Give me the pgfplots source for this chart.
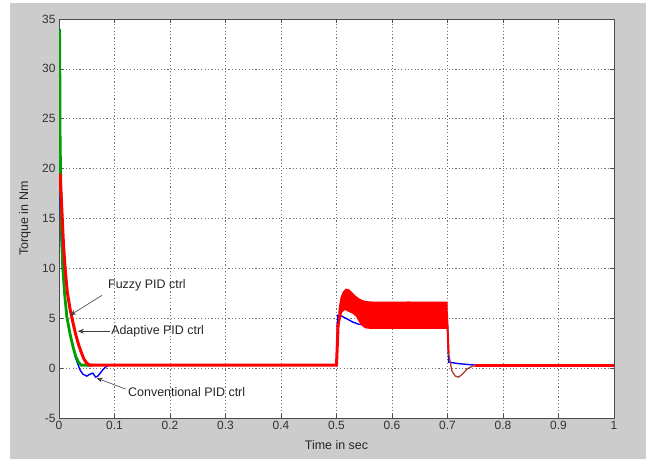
\documentclass[border=0pt]{standalone}
\usepackage{pgfplots}
\pgfplotsset{compat=1.18}
\usetikzlibrary{arrows.meta}
\usepackage{fontspec}
\setmainfont{Liberation Sans}
\definecolor{figgray}{RGB}{204,204,204}
\definecolor{mred}{RGB}{255,0,0}
\definecolor{mblue}{RGB}{0,0,255}
\definecolor{mgreen}{RGB}{0,160,0}
\definecolor{mbrown}{RGB}{170,60,40}
\begin{document}
\begin{tikzpicture}
\useasboundingbox (0,0) rectangle (646bp,459bp);
\fill[white] (0,0) rectangle (646bp,459bp);
\fill[figgray] (10bp,0) rectangle (646bp,456bp);
\begin{axis}[
  at={(59bp,41bp)}, anchor=south west,
  scale only axis, width=555bp, height=399bp,
  xmin=0, xmax=1, ymin=-5, ymax=35,
  xtick={0,0.1,...,1}, ytick={-5,0,...,35},
  xticklabels={0,0.1,0.2,0.3,0.4,0.5,0.6,0.7,0.8,0.9,1},
  axis background/.style={fill=white},
  axis line style={black!70, line width=0.6pt},
  tick align=inside, tick pos=both,
  major tick length=4bp,
  tick style={black!70, line width=0.5pt},
  grid=major,
  major grid style={black!55, line width=0.5pt, dash pattern=on 1.2pt off 2.2pt},
  /pgf/number format/assume math mode=true,
  tick label style={font=\fontsize{12}{14}\selectfont, text=black!80},
  label style={font=\fontsize{12.5}{14}\selectfont, text=black!85},
  xlabel={Time in sec},
  ylabel={Torque in Nm},
  x label style={at={(axis description cs:0.5,-0.0677)}, anchor=center},
  y label style={at={(axis description cs:-0.0613,0.5)}, anchor=center, rotate=0},
  clip=true,
]
% blue (conventional)
\addplot[mblue, line width=1.4bp] coordinates {
(0,20) (0.003,14) (0.006,10) (0.01,7.5) (0.015,5) (0.02,3.5) (0.025,2.2) (0.03,1.0)
(0.034,0.4) (0.038,-0.2) (0.043,-0.6) (0.05,-0.8) (0.056,-0.6) (0.061,-0.5) (0.066,-0.9)
(0.07,-0.8) (0.075,-0.45) (0.08,-0.1) (0.085,0.15) (0.09,0.3) (0.5,0.3)
(0.502,5.3) (0.51,5.2) (0.52,4.9) (0.53,4.6) (0.54,4.4) (0.7,4.4)
(0.702,0.6) (0.72,0.45) (0.75,0.3) (1,0.3)
};
% green (fuzzy)
\addplot[mgreen, line width=2.8bp] coordinates {
(0.001,34) (0.0015,30) (0.002,23) (0.004,15) (0.007,10) (0.01,7.5) (0.014,5.2)
(0.02,3.4) (0.025,2.2) (0.03,1.2) (0.035,0.6) (0.04,0.3) (0.06,0.3)
};
% red (adaptive): transient and steady state
\addplot[mred, line width=3bp] coordinates {
(0.002,19.5) (0.005,16) (0.008,12.5) (0.011,10) (0.015,7.6) (0.02,5.9) (0.025,4.6)
(0.03,3.4) (0.035,2.4) (0.04,1.6) (0.045,0.9) (0.05,0.5) (0.055,0.3) (0.5,0.3)
(0.503,4.5)
};
% red oscillation band during load (envelope of fast ripple)
\addplot[mred, fill=mred, line width=1.2bp] coordinates {
(0.503,4.0) (0.505,6.0) (0.508,7.0) (0.512,7.6) (0.517,7.9) (0.522,7.85) (0.527,7.6)
(0.533,7.25) (0.54,6.95) (0.547,6.75) (0.555,6.65) (0.57,6.6) (0.63,6.62) (0.699,6.6)
(0.700,4.0) (0.63,4.0) (0.56,4.0) (0.552,4.05) (0.546,4.3) (0.541,4.7) (0.536,5.2)
(0.53,5.5) (0.522,5.7) (0.515,5.9) (0.509,5.6) (0.506,4.8)
} -- cycle;
\addplot[mred, line width=2bp] coordinates {(0.699,5.5) (0.702,1.5)};
\addplot[mbrown, line width=1.3bp] coordinates {
(0.702,1.5) (0.708,-0.3) (0.714,-0.8) (0.72,-0.9) (0.727,-0.6) (0.735,-0.1)
(0.745,0.2) (0.755,0.3)
};
\addplot[mred, line width=3bp] coordinates {(0.75,0.3) (1,0.3)};
% annotations
\draw[black!75, line width=0.6pt, -{Stealth[length=6bp,width=5bp]}] (axis cs:0.0775,7.3) -- (axis cs:0.02,5.3);
\node[anchor=west, inner sep=1pt, font=\fontsize{12.5}{14}\selectfont, text=black!85] at (axis cs:0.0865,8.3) {Fuzzy PID ctrl};
\draw[black!75, line width=0.6pt, -{Stealth[length=6bp,width=5bp]}] (axis cs:0.092,3.7) -- (axis cs:0.034,3.7);
\node[anchor=west, inner sep=1pt, font=\fontsize{12.5}{14}\selectfont, text=black!85] at (axis cs:0.092,3.7) {Adaptive PID ctrl};
\draw[black!75, line width=0.6pt, -{Stealth[length=6bp,width=5bp]}] (axis cs:0.12,-2.1) -- (axis cs:0.068,-1.0);
\node[anchor=west, inner sep=1pt, font=\fontsize{12.5}{14}\selectfont, text=black!85] at (axis cs:0.1225,-2.4) {Conventional PID ctrl};
\end{axis}
\end{tikzpicture}
\end{document}
